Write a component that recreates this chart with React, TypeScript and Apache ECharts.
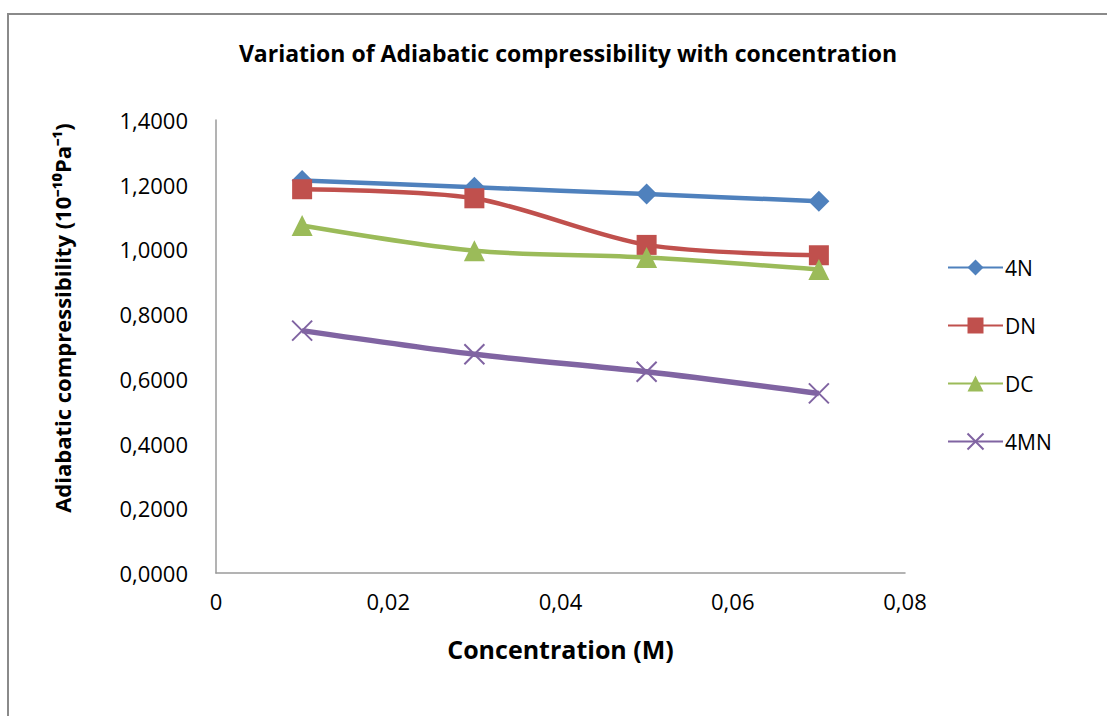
import React, { useEffect, useRef } from "react";
import * as echarts from "echarts";

const concentrations = [0.01, 0.03, 0.05, 0.07];
const seriesNames = ["4N", "DN", "DC", "4MN"];
const values4N = [1.213, 1.192, 1.171, 1.149];
const valuesDN = [1.186, 1.158, 1.014, 0.982];
const valuesDC = [1.074, 0.996, 0.975, 0.938];
const values4MN = [0.749, 0.676, 0.622, 0.555];
const colors = ["#4F81BD", "#C0504D", "#9BBB59", "#8064A2"];
const symbols = ["diamond", "rect", "triangle", "path://M0,0L10,10M10,0L0,10"];
const symbolSizes = [21, 20, 21, 20];

const FONT = "'Open Sans', sans-serif";

export default function App() {
  const ref = useRef<HTMLDivElement>(null);
  useEffect(() => {
    if (!ref.current) return;
    const chart = echarts.init(ref.current, null, { renderer: "svg" });
    const all = [values4N, valuesDN, valuesDC, values4MN];
    const series = all.map((vals, i) => ({
      name: seriesNames[i],
      type: "line",
      smooth: 0.3,
      data: vals.map((v, j) => [concentrations[j], v]),
      symbol: symbols[i],
      symbolSize: symbolSizes[i],
      lineStyle: { color: colors[i], width: i === 3 ? 5.5 : 4.5 },
      itemStyle:
        i === 3
          ? { color: colors[i], borderColor: colors[i], borderWidth: 2 }
          : { color: colors[i], borderWidth: 0 },
    }));
    chart.setOption({
      animation: false,
      backgroundColor: "#ffffff",
      textStyle: { fontFamily: FONT },
      graphic: [
        {
          type: "rect",
          shape: { x: 8, y: 14, width: 1200, height: 800 },
          style: { fill: "none", stroke: "#8a8a8a", lineWidth: 2 },
          silent: true,
        },
        {
          type: "text",
          x: 62,
          y: 318,
          rotation: Math.PI / 2,
          silent: true,
          style: {
            text: "Adiabatic compressibility (10⁻¹⁰Pa⁻¹)",
            fontFamily: FONT,
            fontSize: 22,
            fontWeight: "bold",
            fill: "#000",
            align: "center",
            verticalAlign: "middle",
          },
        },
      ],
      title: {
        text: "Variation of Adiabatic compressibility with concentration",
        left: 563,
        textAlign: "center",
        top: 36,
        textStyle: { fontFamily: FONT, fontSize: 23, fontWeight: "bold", color: "#000" },
      },
      legend: {
        orient: "vertical",
        left: 942,
        top: 252,
        itemWidth: 55,
        itemHeight: 20,
        itemGap: 37,
        data: seriesNames,
        textStyle: { fontFamily: FONT, fontSize: 21, color: "#000", padding: [0, 0, 0, -3] },
      },
      grid: { left: 216, top: 120, right: 202, bottom: 143, containLabel: false },
      xAxis: {
        type: "value",
        min: 0,
        max: 0.08,
        interval: 0.02,
        name: "Concentration (M)",
        nameLocation: "middle",
        nameGap: 63,
        nameTextStyle: { fontFamily: FONT, fontSize: 25, fontWeight: "bold", color: "#000" },
        axisLine: { show: true, lineStyle: { color: "#9a9a9a", width: 1.5 } },
        axisTick: { show: false },
        splitLine: { show: false },
        axisLabel: {
          margin: 17,
          fontFamily: FONT,
          fontSize: 22,
          color: "#000",
          formatter: (v: number) => (v === 0 ? "0" : v.toFixed(2).replace(".", ",")),
        },
      },
      yAxis: {
        type: "value",
        min: 0,
        max: 1.4,
        interval: 0.2,
        axisLine: { show: true, lineStyle: { color: "#9a9a9a", width: 1.5 } },
        axisTick: { show: false },
        splitLine: { show: false },
        axisLabel: {
          margin: 28,
          fontFamily: FONT,
          fontSize: 22,
          color: "#000",
          formatter: (v: number) => v.toFixed(4).replace(".", ","),
        },
      },
      series,
    });
    return () => chart.dispose();
  }, []);
  return (
    <div
      ref={ref}
      style={{ position: "fixed", left: 0, top: 0, width: 1107, height: 716 }}
    />
  );
}
